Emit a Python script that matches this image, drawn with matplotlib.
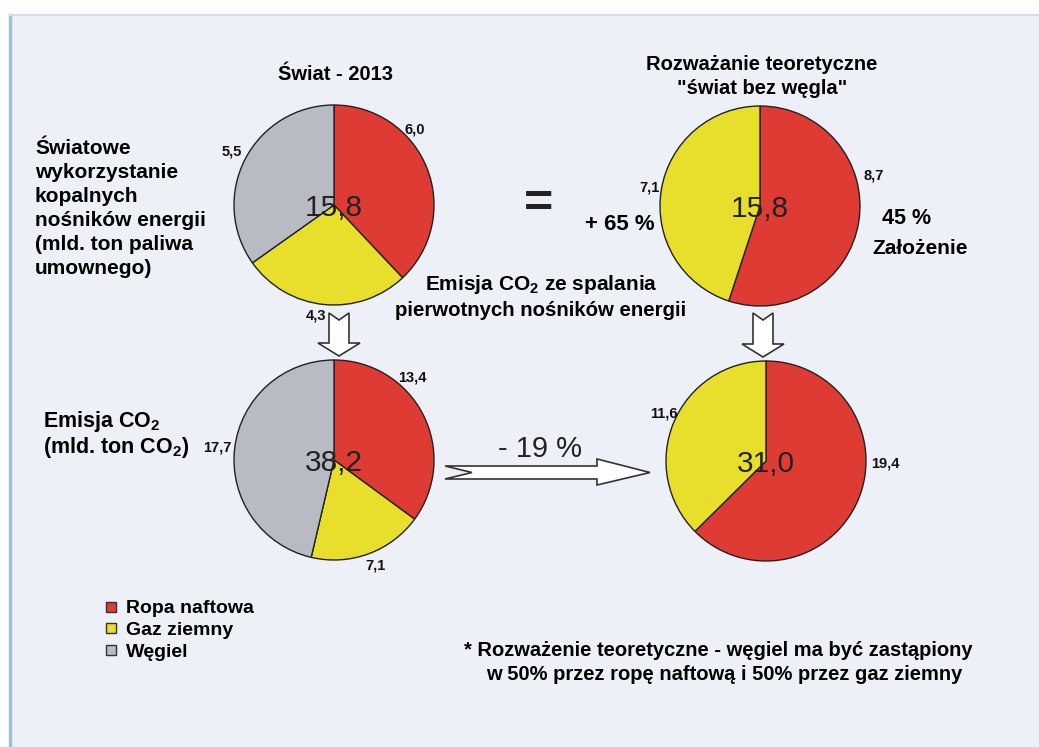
import matplotlib
matplotlib.use("Agg")
import matplotlib.pyplot as plt
from matplotlib.patches import Polygon, Rectangle
from matplotlib.lines import Line2D

plt.rcParams['font.family'] = ['Liberation Sans', 'DejaVu Sans']
plt.rcParams['mathtext.fontset'] = 'custom'
plt.rcParams['mathtext.rm'] = 'Liberation Sans:bold'
plt.rcParams['mathtext.it'] = 'Liberation Sans:bold'
plt.rcParams['mathtext.bf'] = 'Liberation Sans:bold'

# data (mld. ton)
categories = ["Ropa naftowa", "Gaz ziemny", "Węgiel"]
colors = ["#de3b34", "#e7df2c", "#b9bbc4"]

energy_2013 = [6.0, 4.3, 5.5]
energy_2013_labels = ["6,0", "4,3", "5,5"]
co2_2013 = [13.4, 7.1, 17.7]
co2_2013_labels = ["13,4", "7,1", "17,7"]
energy_nocoal = [8.7, 7.1]
energy_nocoal_labels = ["8,7", "7,1"]
co2_nocoal = [19.4, 11.6]
co2_nocoal_labels = ["19,4", "11,6"]

totals = ["15,8", "38,2", "15,8", "31,0"]

W, H = 1039, 747


def Y(py):
    return H - py


fig = plt.figure(figsize=(W / 100, H / 100), dpi=100)
fig.patch.set_facecolor("white")
ax = fig.add_axes([0, 0, 1, 1])

# scanned page background
ax.add_patch(Rectangle((10, 0), W - 10, H - 15, facecolor="#eef0f7", edgecolor="none", zorder=0))
ax.plot([10, 10], [0, Y(15)], color="#9ec3cf", lw=2.5, zorder=1)
ax.plot([10, W], [Y(15), Y(15)], color="#d4dde6", lw=1.5, zorder=1)


def draw_pie(values, labels, cx, cy, total, label_pos):
    ax.pie(values, colors=colors[:len(values)], startangle=90, counterclock=False,
           center=(cx, Y(cy)), radius=100, frame=True,
           wedgeprops=dict(edgecolor="#222222", linewidth=1.0))
    ax.text(cx, Y(cy + 3), total, ha="center", va="center", fontsize=21.5, color="#222222")
    for lab, (lx, ly) in zip(labels, label_pos):
        ax.text(lx, Y(ly), lab, ha="center", va="center", fontsize=10.5,
                fontweight="bold", color="#111111")


draw_pie(energy_2013, energy_2013_labels, 334, 205, totals[0],
         [(415, 129), (316, 316), (232, 152)])
draw_pie(co2_2013, co2_2013_labels, 334, 460, totals[1],
         [(412, 378), (376, 566), (217, 448)])
draw_pie(energy_nocoal, energy_nocoal_labels, 760, 206, totals[2],
         [(874, 175), (650, 188)])
draw_pie(co2_nocoal, co2_nocoal_labels, 766, 461, totals[3],
         [(885, 463), (664, 413)])


# hollow arrows
def down_arrow(cx, top, tip):
    pts = [(cx - 10, top), (cx, top + 7), (cx + 10, top), (cx + 10, tip - 13),
           (cx + 21, tip - 13), (cx, tip), (cx - 21, tip - 13), (cx - 10, tip - 13)]
    ax.add_patch(Polygon([(x, Y(y)) for x, y in pts], closed=True, facecolor="white",
                         edgecolor="#333333", lw=1.2, zorder=3))


down_arrow(339, 313, 356)
down_arrow(763, 313, 357)

right = [(445, 466), (472, 472.5), (445, 479), (597, 479), (597, 485), (650, 472.5),
         (597, 459), (597, 466)]
ax.add_patch(Polygon([(x, Y(y)) for x, y in right], closed=True, facecolor="white",
                     edgecolor="#333333", lw=1.2, zorder=3))

# titles
ax.text(335, Y(75), "Świat - 2013", ha="center", va="center", fontsize=14.5, fontweight="bold")
ax.text(762, Y(64), "Rozważanie teoretyczne", ha="center", va="center", fontsize=14.5, fontweight="bold")
ax.text(762, Y(88), "\"świat bez węgla\"", ha="center", va="center", fontsize=14.5, fontweight="bold")

left_lines = ["Światowe", "wykorzystanie", "kopalnych", "nośników energii",
              "(mld. ton paliwa", "umownego)"]
for i, line in enumerate(left_lines):
    ax.text(35, Y(148 + 24 * i), line, ha="left", va="center", fontsize=15, fontweight="bold")

ax.text(538, Y(205), "=", ha="center", va="center", fontsize=36, fontweight="bold", color="#222222")
ax.text(620, Y(224), "+ 65 %", ha="center", va="center", fontsize=16, fontweight="bold")
ax.text(907, Y(218), "45 %", ha="center", va="center", fontsize=15.5, fontweight="bold")
ax.text(920, Y(249), "Założenie", ha="center", va="center", fontsize=15, fontweight="bold")

ax.text(541, Y(285), "Emisja CO$_2$ ze spalania", ha="center", va="center", fontsize=15, fontweight="bold")
ax.text(541, Y(310), "pierwotnych nośników energii", ha="center", va="center", fontsize=14.7, fontweight="bold")

ax.text(43, Y(421), "Emisja CO$_2$", ha="left", va="center", fontsize=15.5, fontweight="bold")
ax.text(43, Y(447), "(mld. ton CO$_2$)", ha="left", va="center", fontsize=15.5, fontweight="bold")

ax.text(540, Y(449), "- 19 %", ha="center", va="center", fontsize=21, color="#222222")

# legend
handles = [Line2D([], [], marker="s", linestyle="none", markersize=6.5,
                  markerfacecolor=c, markeredgecolor="#333333", markeredgewidth=1)
           for c in colors]
leg = ax.legend(handles, categories, loc="upper left", bbox_to_anchor=(94, Y(590)),
                bbox_transform=ax.transData, frameon=False, borderpad=0,
                handlelength=0.7, handletextpad=0.45, labelspacing=0.22,
                prop=dict(size=14, weight="bold"))

ax.text(718, Y(650), "* Rozważenie teoretyczne - węgiel ma być zastąpiony",
        ha="center", va="center", fontsize=14.5, fontweight="bold")
ax.text(724, Y(674), "w 50% przez ropę naftową i 50% przez gaz ziemny",
        ha="center", va="center", fontsize=14.5, fontweight="bold")

ax.set_xlim(0, W)
ax.set_ylim(0, H)
ax.set_aspect("auto")
ax.axis("off")

fig.savefig("out.png", dpi=100, facecolor=fig.get_facecolor())
